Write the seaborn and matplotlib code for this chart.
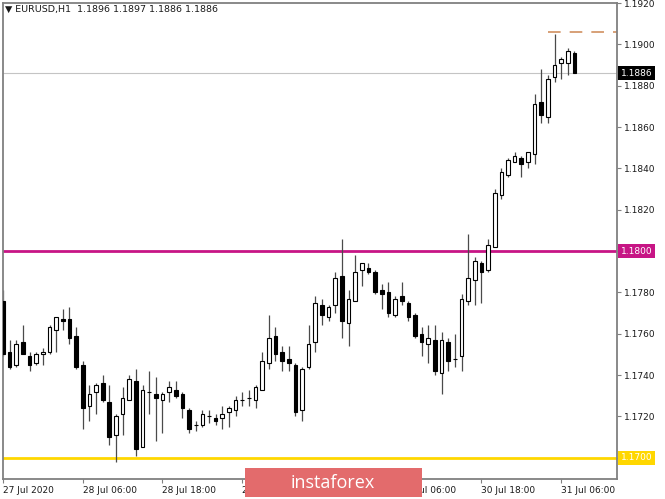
import pandas as pd
import seaborn as sns
from matplotlib import pyplot as plt
from matplotlib import transforms
from matplotlib.patches import Rectangle

# EURUSD H1 candles, 27 Jul 18:00 .. 31 Jul 08:00
opens = [1.1776, 1.1751, 1.1745, 1.1756, 1.1749, 1.1746, 1.1750, 1.1751, 1.1762, 1.1767,
         1.1767, 1.1759, 1.1745, 1.1725, 1.1732, 1.1736, 1.1727, 1.1711, 1.1721, 1.1728,
         1.1737, 1.1705, 1.1732, 1.1731, 1.1728, 1.1732, 1.1733, 1.1731, 1.1723, 1.1716,
         1.1716, 1.1720, 1.1719, 1.1719, 1.1722, 1.1723, 1.1728, 1.1729, 1.1728, 1.1733,
         1.1746, 1.1759, 1.1751, 1.1748, 1.1745, 1.1723, 1.1744, 1.1756, 1.1774, 1.1768,
         1.1774, 1.1788, 1.1765, 1.1776, 1.1791, 1.1792, 1.1790, 1.1781, 1.1780, 1.1769,
         1.1778, 1.1775, 1.1769, 1.1760, 1.1755, 1.1757, 1.1741, 1.1756, 1.1748, 1.1749,
         1.1776, 1.1786, 1.1794, 1.1791, 1.1802, 1.1827, 1.1837, 1.1843, 1.1845, 1.1843,
         1.1847, 1.1872, 1.1865, 1.1884, 1.1891, 1.1891, 1.1896]
highs = [1.1781, 1.1757, 1.1757, 1.1764, 1.1751, 1.1751, 1.1753, 1.1764, 1.1768, 1.1772,
         1.1773, 1.1763, 1.1747, 1.1735, 1.1736, 1.1740, 1.1735, 1.1721, 1.1734, 1.1740,
         1.1743, 1.1735, 1.1742, 1.1739, 1.1732, 1.1737, 1.1737, 1.1732, 1.1724, 1.1718,
         1.1723, 1.1723, 1.1721, 1.1725, 1.1725, 1.1730, 1.1732, 1.1733, 1.1735, 1.1751,
         1.1769, 1.1763, 1.1754, 1.1754, 1.1746, 1.1744, 1.1764, 1.1778, 1.1777, 1.1774,
         1.1790, 1.1806, 1.1781, 1.1798, 1.1794, 1.1794, 1.1791, 1.1784, 1.1785, 1.1778,
         1.1785, 1.1776, 1.1770, 1.1763, 1.1764, 1.1764, 1.1761, 1.1758, 1.1760, 1.1779,
         1.1808, 1.1797, 1.1795, 1.1806, 1.1830, 1.1840, 1.1845, 1.1848, 1.1846, 1.1848,
         1.1876, 1.1888, 1.1885, 1.1905, 1.1894, 1.1898, 1.1897]
lows = [1.1749, 1.1743, 1.1744, 1.1750, 1.1742, 1.1745, 1.1745, 1.1750, 1.1751, 1.1762,
        1.1755, 1.1743, 1.1714, 1.1718, 1.1721, 1.1727, 1.1706, 1.1698, 1.1711, 1.1728,
        1.1701, 1.1705, 1.1721, 1.1708, 1.1712, 1.1727, 1.1729, 1.1719, 1.1712, 1.1713,
        1.1715, 1.1717, 1.1716, 1.1714, 1.1715, 1.1720, 1.1725, 1.1725, 1.1724, 1.1733,
        1.1743, 1.1747, 1.1742, 1.1742, 1.1720, 1.1718, 1.1743, 1.1751, 1.1764, 1.1766,
        1.1770, 1.1758, 1.1754, 1.1776, 1.1783, 1.1789, 1.1779, 1.1772, 1.1768, 1.1768,
        1.1774, 1.1766, 1.1758, 1.1749, 1.1746, 1.1740, 1.1731, 1.1742, 1.1744, 1.1742,
        1.1774, 1.1774, 1.1775, 1.1790, 1.1802, 1.1825, 1.1836, 1.1843, 1.1836, 1.1840,
        1.1842, 1.1862, 1.1862, 1.1882, 1.1883, 1.1885, 1.1886]
closes = [1.1750, 1.1744, 1.1755, 1.1750, 1.1745, 1.1750, 1.1751, 1.1763, 1.1768, 1.1766,
          1.1758, 1.1744, 1.1724, 1.1731, 1.1735, 1.1728, 1.1710, 1.1720, 1.1729, 1.1738,
          1.1704, 1.1733, 1.1732, 1.1729, 1.1731, 1.1734, 1.1730, 1.1724, 1.1714, 1.1716,
          1.1721, 1.1720, 1.1718, 1.1721, 1.1724, 1.1728, 1.1728, 1.1729, 1.1734, 1.1747,
          1.1758, 1.1750, 1.1747, 1.1746, 1.1722, 1.1743, 1.1755, 1.1775, 1.1769, 1.1773,
          1.1787, 1.1766, 1.1777, 1.1790, 1.1794, 1.1790, 1.1780, 1.1779, 1.1770, 1.1777,
          1.1776, 1.1768, 1.1759, 1.1756, 1.1758, 1.1742, 1.1757, 1.1747, 1.1748, 1.1777,
          1.1787, 1.1795, 1.1790, 1.1803, 1.1828, 1.1838, 1.1844, 1.1846, 1.1842, 1.1848,
          1.1871, 1.1866, 1.1883, 1.1890, 1.1893, 1.1897, 1.1886]

tick_bars = [0, 12, 24, 36, 48, 60, 72, 84]
tick_labels = ["27 Jul 2020", "28 Jul 06:00", "28 Jul 18:00", "29 Jul 06:00",
               "29 Jul 18:00", "30 Jul 06:00", "30 Jul 18:00", "31 Jul 06:00"]
price_ticks = [1.1700, 1.1720, 1.1740, 1.1760, 1.1780, 1.1800, 1.1820, 1.1840,
               1.1860, 1.1880, 1.1900, 1.1920]

support = 1.1700
resistance = 1.1800
target = 1.1906
target_from = 82
bid = 1.1886

df = pd.DataFrame({"open": opens, "high": highs, "low": lows, "close": closes})
df["bar"] = range(len(df))
df["bottom"] = df[["open", "close"]].min(axis=1)
df["size"] = (df["close"] - df["open"]).abs()
df["up"] = df["close"] >= df["open"]

sns.set_theme(style="white")
plt.rcParams["font.family"] = ["DejaVu Sans"]

fig = plt.figure(figsize=(6.65, 4.99), dpi=100)
ax = fig.add_axes([3 / 665, 20 / 499, 614 / 665, 476 / 499])

grey = "#808080"
ax.axhline(bid, color="#c4c4c4", lw=0.8, zorder=1)
ax.axhline(resistance, color="#c71585", lw=2, zorder=1)
ax.axhline(support, color="#ffd700", lw=2, zorder=1)
ax.hlines(target, target_from, 95, color="#d4996c", lw=1.3, linestyles=(0, (7, 5)), zorder=1)

ax.vlines(df["bar"], df["low"], df["high"], color="#4a4a4a", lw=0.9, zorder=2)
ax.bar(df["bar"], df["size"], bottom=df["bottom"], width=0.55,
       color=["white" if u else "black" for u in df["up"]],
       edgecolor="black", linewidth=0.8, zorder=3)

ax.set_xlim(0.12, 92.4)
ax.set_ylim(1.16897, 1.1920)

# labels under the coloured price boxes are hidden in the terminal
boxed = [support, resistance]
ax.yaxis.tick_right()
ax.set_yticks(price_ticks)
ax.set_yticklabels(["" if p in boxed else f"{p:.4f}" for p in price_ticks])
ax.set_xticks(tick_bars)
ax.set_xticklabels(tick_labels)
for lab in ax.get_xticklabels():
    lab.set_ha("left")
ax.tick_params(axis="both", direction="out", length=3, width=0.8, color=grey,
               labelsize=6.5, labelcolor="#1a1a1a", pad=2,
               bottom=True, right=True, left=False)
for s in ax.spines.values():
    s.set_color(grey)
    s.set_linewidth(1.3)
ax.set_xlabel("")
ax.set_ylabel("")

# price labels on the right axis
tr = transforms.blended_transform_factory(ax.transAxes, ax.transData)
for price, bg in [(resistance, "#c71585"), (support, "#ffd700"), (bid, "black")]:
    ax.text(1.006, price, f"{price:.4f}", transform=tr, ha="left", va="center",
            fontsize=6.5, color="white", clip_on=False, zorder=5,
            bbox=dict(facecolor=bg, edgecolor="none", boxstyle="square,pad=0.3"))

fig.text(5 / 665, 1 - 9 / 499, "\u25bc EURUSD,H1  1.1896 1.1897 1.1886 1.1886",
         ha="left", va="center", fontsize=6.8, color="#1a1a1a")

# watermark
fig.add_artist(Rectangle((245 / 665, 2 / 499), 177 / 665, 29 / 499,
                         transform=fig.transFigure, facecolor="#e36b6c",
                         edgecolor="none", zorder=10))
fig.text(333 / 665, 16 / 499, "instaforex", ha="center", va="center",
         fontsize=13, color="white", family=["Open Sans", "DejaVu Sans"], zorder=11)

fig.savefig("out.png", dpi=100)
